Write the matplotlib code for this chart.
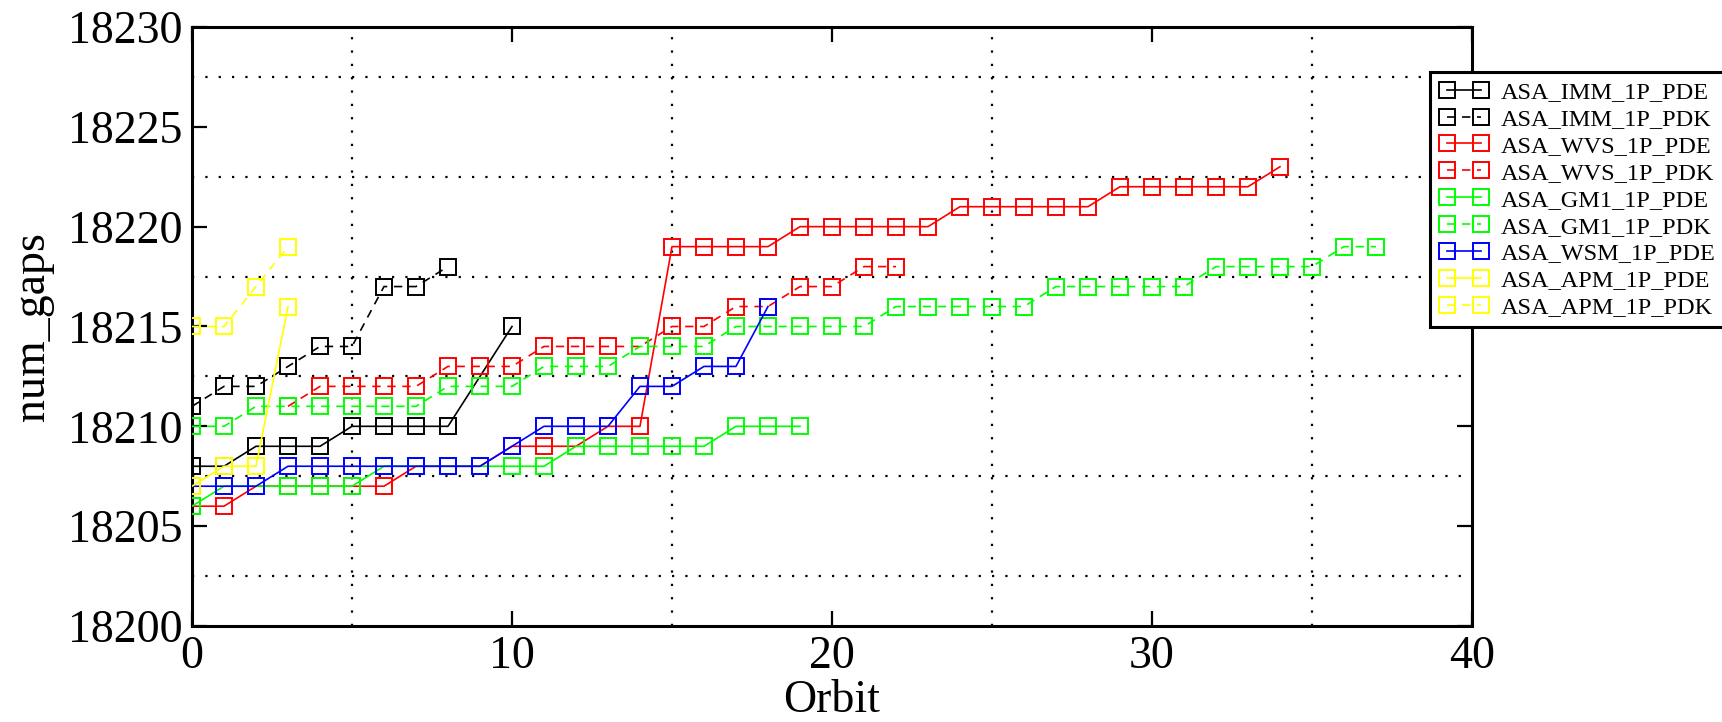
import matplotlib
matplotlib.use("Agg")
import matplotlib.pyplot as plt
from matplotlib.ticker import MultipleLocator

# series data: orbit numbers and gap counts
imm_pde_x = [0, 1, 2, 3, 4, 5, 6, 7, 8, 10]
imm_pde_y = [18208, 18208, 18209, 18209, 18209, 18210, 18210, 18210, 18210, 18215]

imm_pdk_x = list(range(0, 9))
imm_pdk_y = [18211, 18212, 18212, 18213, 18214, 18214, 18217, 18217, 18218]

wvs_pde_x = list(range(0, 35))
wvs_pde_y = [18206, 18206,
             18207, 18207, 18207, 18207, 18207,
             18208, 18208, 18208,
             18209, 18209, 18209,
             18210, 18210,
             18219, 18219, 18219, 18219,
             18220, 18220, 18220, 18220, 18220,
             18221, 18221, 18221, 18221, 18221,
             18222, 18222, 18222, 18222, 18222,
             18223]

wvs_pdk_x = list(range(3, 23))
wvs_pdk_y = [18211,
             18212, 18212, 18212, 18212,
             18213, 18213, 18213,
             18214, 18214, 18214, 18214,
             18215, 18215,
             18216, 18216,
             18217, 18217,
             18218, 18218]

gm1_pde_x = list(range(0, 20))
gm1_pde_y = [18206,
             18207, 18207, 18207, 18207, 18207,
             18208, 18208, 18208, 18208, 18208, 18208,
             18209, 18209, 18209, 18209, 18209,
             18210, 18210, 18210]

gm1_pdk_x = list(range(0, 38))
gm1_pdk_y = [18210, 18210,
             18211, 18211, 18211, 18211, 18211, 18211,
             18212, 18212, 18212,
             18213, 18213, 18213,
             18214, 18214, 18214,
             18215, 18215, 18215, 18215, 18215,
             18216, 18216, 18216, 18216, 18216,
             18217, 18217, 18217, 18217, 18217,
             18218, 18218, 18218, 18218,
             18219, 18219]

wsm_pde_x = list(range(0, 19))
wsm_pde_y = [18207, 18207, 18207,
             18208, 18208, 18208, 18208, 18208, 18208, 18208,
             18209,
             18210, 18210, 18210,
             18212, 18212,
             18213, 18213,
             18216]

apm_pde_x = [0, 1, 2, 3]
apm_pde_y = [18207, 18208, 18208, 18216]

apm_pdk_x = [0, 1, 2, 3]
apm_pdk_y = [18215, 18215, 18217, 18219]

series = [
    ("ASA_IMM_1P_PDE", imm_pde_x, imm_pde_y, "black", "-"),
    ("ASA_IMM_1P_PDK", imm_pdk_x, imm_pdk_y, "black", (0, (5, 4))),
    ("ASA_WVS_1P_PDE", wvs_pde_x, wvs_pde_y, "#ff0000", "-"),
    ("ASA_WVS_1P_PDK", wvs_pdk_x, wvs_pdk_y, "#ff0000", (0, (5, 4))),
    ("ASA_GM1_1P_PDE", gm1_pde_x, gm1_pde_y, "#00ff00", "-"),
    ("ASA_GM1_1P_PDK", gm1_pdk_x, gm1_pdk_y, "#00ff00", (0, (5, 4))),
    ("ASA_WSM_1P_PDE", wsm_pde_x, wsm_pde_y, "#0000ff", "-"),
    ("ASA_APM_1P_PDE", apm_pde_x, apm_pde_y, "#ffff00", "-"),
    ("ASA_APM_1P_PDK", apm_pdk_x, apm_pdk_y, "#ffff00", (0, (5, 4))),
]

plt.rcParams['font.family'] = ['Liberation Serif', 'DejaVu Serif']

fig = plt.figure(figsize=(17.22, 7.22), dpi=100)
ax = fig.add_axes([0.1115, 0.133, 0.7433, 0.8296])

for i, (name, xs, ys, col, ls) in enumerate(series):
    ax.plot(xs, ys, color=col, linestyle=ls, linewidth=1.2,
            marker='s', markersize=11.5, markerfacecolor='none',
            markeredgecolor=col, markeredgewidth=1.4, label=name,
            zorder=3 + i * 0.1)

ax.set_xlim(0, 40)
ax.set_ylim(18200, 18230)
ax.xaxis.set_major_locator(MultipleLocator(10))
ax.xaxis.set_minor_locator(MultipleLocator(5))
ax.yaxis.set_major_locator(MultipleLocator(5))
ax.yaxis.set_minor_locator(MultipleLocator(2.5))

# minor grid only, dotted
ax.grid(False, which='major')
ax.grid(True, which='minor', color='black', linestyle=(0, (1, 5)), linewidth=1.6)

ax.tick_params(which='major', direction='in', length=11, width=1.6,
               top=True, right=True, labelsize=33, pad=7)
ax.tick_params(which='minor', length=0)
for sp in ax.spines.values():
    sp.set_linewidth(2.2)

ax.set_xlabel('Orbit', fontsize=33, labelpad=1)
ax.set_ylabel('num_gaps', fontsize=33, labelpad=10)

leg = ax.legend(loc='upper left', bbox_to_anchor=(1430 / 1722, 1 - 72 / 722),
                bbox_transform=fig.transFigure, fontsize=17.5, numpoints=2,
                handlelength=2.0, handletextpad=0.55, labelspacing=0.2,
                borderpad=0.38, borderaxespad=0, frameon=True, fancybox=False,
                framealpha=1, edgecolor='black')
leg.get_frame().set_linewidth(2.2)
leg.set_zorder(10)

fig.savefig('out.png', dpi=100)
